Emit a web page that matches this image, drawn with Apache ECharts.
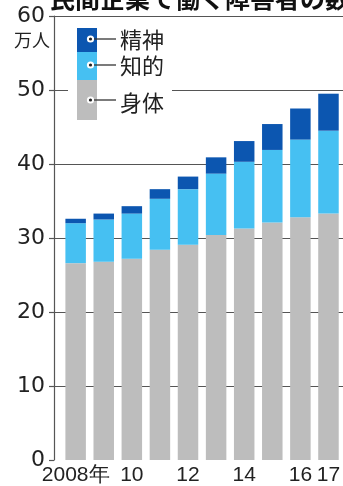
<!DOCTYPE html>
<html>
<head>
<meta charset="utf-8">
<script src="https://cdn.jsdelivr.net/npm/echarts@6/dist/echarts.min.js"></script>
<style>html,body{margin:0;padding:0;background:#fff}#c{width:343px;height:486px}</style>
</head>
<body>
<div id="c"></div>
<script>
const years = ['2008','2009','2010','2011','2012','2013','2014','2015','2016','2017'];
const tickLabels = ['2008年','','10','','12','','14','','16','17'];
const shintai = [26.6,26.8,27.2,28.4,29.1,30.4,31.3,32.1,32.8,33.3];
const chiteki = [5.4,5.7,6.1,6.9,7.5,8.3,9.0,9.8,10.5,11.2];
const seishin = [0.6,0.8,1.0,1.3,1.7,2.2,2.8,3.5,4.2,5.0];
const seriesNames = ['身体','知的','精神'];
const colors = ['#bdbdbd','#46c0f2','#0c56b0'];
const title = '民間企業で働く障害者の数';
const unit = '万人';

const chart = echarts.init(document.getElementById('c'), null, {renderer:'canvas'});
const cjk = '"Noto Sans CJK JP", sans-serif';
const legendY = [103, 66, 40];
const dotY = [100, 65, 39];
const graphics = [
  {type:'text', left:50, top:-14, z:10, style:{text:title, font:'bold 25px ' + cjk, fill:'#111'}},
  {type:'text', left:14, top:31, z:10, style:{text:unit, font:'18px ' + cjk, fill:'#222'}},
  {type:'rect', shape:{x:68, y:22, width:104, height:100}, style:{fill:'#fff'}, z:5},
  {type:'rect', shape:{x:77, y:80, width:20, height:40}, style:{fill:colors[0]}, z:6},
  {type:'rect', shape:{x:77, y:52, width:20, height:28}, style:{fill:colors[1]}, z:6},
  {type:'rect', shape:{x:77, y:28, width:20, height:24}, style:{fill:colors[2]}, z:6}
];
seriesNames.forEach((n,i)=>{
  graphics.push({type:'line', shape:{x1:91, y1:dotY[i], x2:116, y2:dotY[i]}, style:{stroke:'#333', lineWidth:1.3}, z:7});
  graphics.push({type:'circle', shape:{cx:90.5, cy:dotY[i], r:3.6}, style:{fill:'#fff'}, z:8});
  graphics.push({type:'circle', shape:{cx:90.5, cy:dotY[i], r:1.6}, style:{fill:'#222'}, z:9});
  graphics.push({type:'text', x:120, y:legendY[i], z:8, style:{text:n, font:'22px ' + cjk, fill:'#222', textVerticalAlign:'middle'}});
});

const data = [shintai, chiteki, seishin];
chart.setOption({
  animation:false,
  grid:[
    {left:54, top:16, width:289, height:444},
    {left:61.6, top:16, width:284, height:444}
  ],
  xAxis:[
    {type:'value', gridIndex:0, show:false, min:0, max:1},
    {type:'category', gridIndex:1, data:years,
     axisLine:{show:false}, axisTick:{show:false},
     axisLabel:{interval:0, formatter:(v,i)=>tickLabels[i], fontFamily:'"Liberation Sans Narrow", "Liberation Sans", sans-serif', fontSize:21, color:'#222', margin:5}}
  ],
  yAxis:[
    {type:'value', gridIndex:0, min:0, max:60, interval:10,
     axisLine:{show:true, lineStyle:{color:'#555', width:1.2}},
     axisTick:{show:true, length:5, lineStyle:{color:'#555', width:1.2}},
     axisLabel:{fontFamily:'"DejaVu Sans", sans-serif', fontSize:22, color:'#222', margin:9},
     splitLine:{show:true, showMinLine:false, lineStyle:{color:'#555', width:1.2}}},
    {type:'value', gridIndex:1, min:0, max:60, show:false, splitLine:{show:false}}
  ],
  graphic:graphics,
  series: data.map((d,i)=>({
    name:seriesNames[i], type:'bar', stack:'a', xAxisIndex:1, yAxisIndex:1,
    barWidth:20.5, itemStyle:{color:colors[i]}, data:d
  }))
});
</script>
</body>
</html>
